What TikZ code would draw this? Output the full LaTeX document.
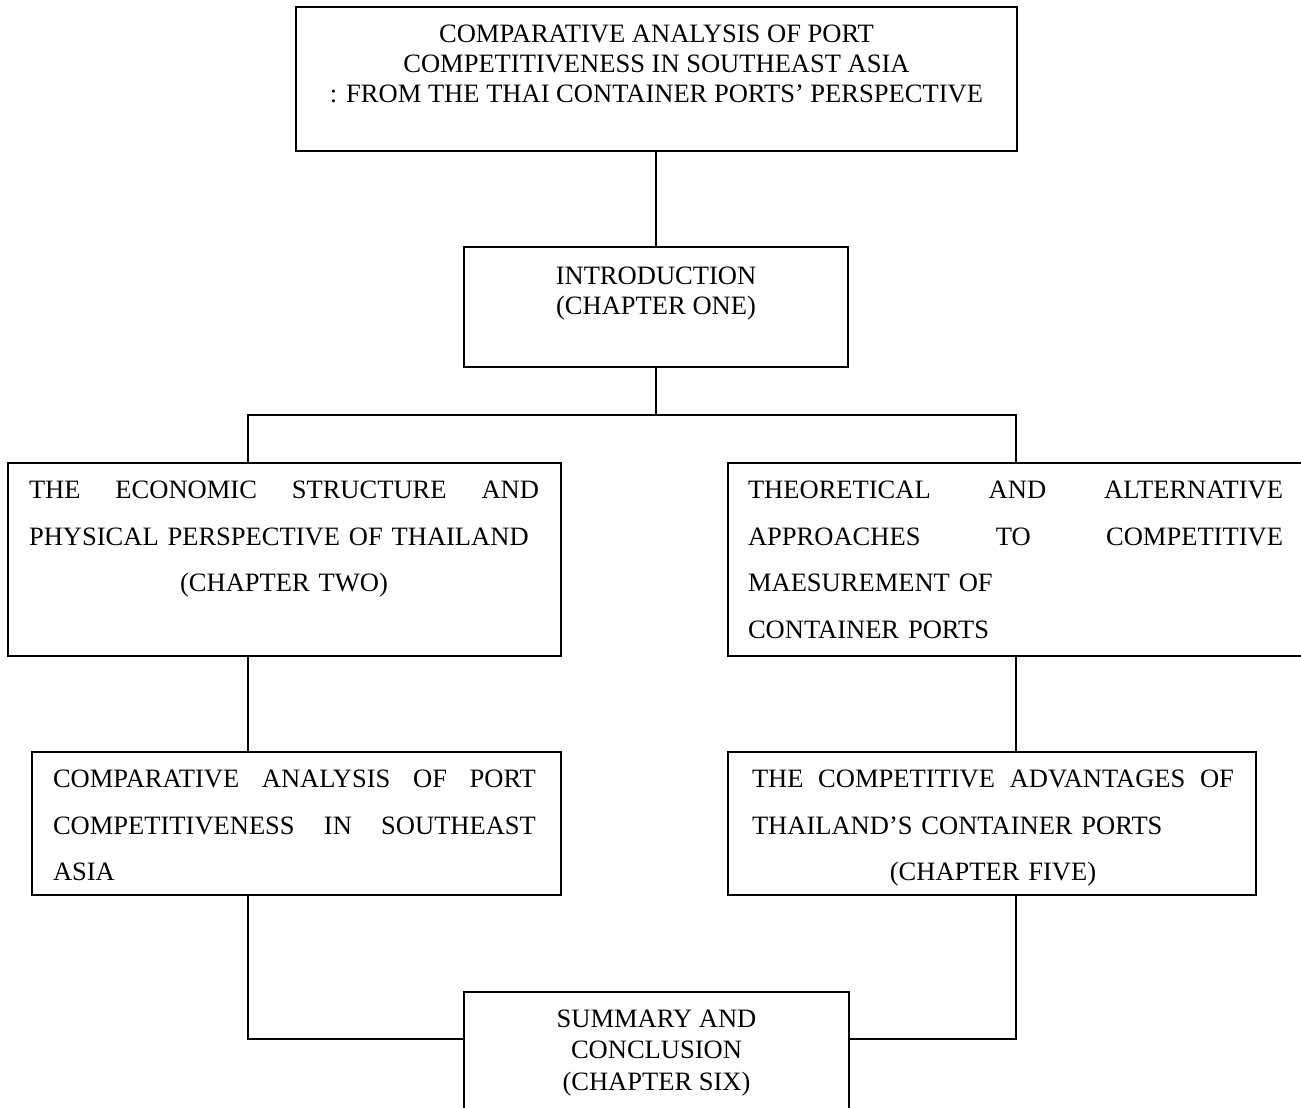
\documentclass[tikz,border=0pt]{standalone}
\usepackage{fontspec}
\setmainfont{Liberation Serif}
\newcommand\pxl[1]{#1*0.75pt}
\newcommand\jl[1]{\leavevmode\hbox to \linewidth{#1}}
\begin{document}
\begin{tikzpicture}[x=0.75pt,y=-0.75pt,
  frame/.style={draw, line width=1.4pt, inner sep=0pt, outer sep=0pt, anchor=north west},
  txt/.style={inner sep=0pt, outer sep=0pt, font=\fontsize{19.9pt}{22.5pt}\selectfont},
  jtxt/.style={inner sep=0pt, outer sep=0pt, anchor=north west, align=left, font=\fontsize{19.9pt}{35pt}\selectfont},
  conn/.style={line width=1.3pt}]
\useasboundingbox (0,0) rectangle (1301,1107);
% boxes
\node[frame, minimum width=\pxl{721}, minimum height=\pxl{144}] (top) at (296,7) {};
\node[frame, minimum width=\pxl{384}, minimum height=\pxl{120}] (intro) at (464,247) {};
\node[frame, minimum width=\pxl{553}, minimum height=\pxl{193}] (econ) at (8,463) {};
\node[frame, minimum width=\pxl{590}, minimum height=\pxl{193}] (theo) at (728,463) {};
\node[frame, minimum width=\pxl{529}, minimum height=\pxl{143}] (comp) at (32,752) {};
\node[frame, minimum width=\pxl{528}, minimum height=\pxl{143}] (adv) at (728,752) {};
\node[frame, minimum width=\pxl{385}, minimum height=\pxl{140}] (summ) at (464,992) {};
% texts
\node[txt, anchor=north, align=center] (top-t) at (656.5,25)
  {COMPARATIVE ANALYSIS OF PORT\\COMPETITIVENESS IN SOUTHEAST ASIA\\: FROM THE THAI CONTAINER PORTS’ PERSPECTIVE};
\node[txt, anchor=north, align=center] (intro-t) at (656,267)
  {INTRODUCTION\\(CHAPTER ONE)};
\node[jtxt, text width=\pxl{510}] (econ-t) at (29,481)
  {\jl{THE\hfill ECONOMIC\hfill STRUCTURE\hfill AND}\\
   PHYSICAL PERSPECTIVE OF THAILAND\\
   \jl{\hfill(CHAPTER TWO)\hfill}};
\node[jtxt, text width=\pxl{535}] (theo-t) at (748,481)
  {\jl{THEORETICAL\hfill AND\hfill ALTERNATIVE}\\
   \jl{APPROACHES\hfill TO\hfill COMPETITIVE}\\
   MAESUREMENT OF\\
   CONTAINER PORTS};
\node[jtxt, text width=\pxl{483}] (comp-t) at (53,770)
  {\jl{COMPARATIVE\hfill ANALYSIS\hfill OF\hfill PORT}\\
   \jl{COMPETITIVENESS\hfill IN\hfill SOUTHEAST}\\
   ASIA};
\node[jtxt, text width=\pxl{482}] (adv-t) at (752,770)
  {\jl{THE\hfill COMPETITIVE\hfill ADVANTAGES\hfill OF}\\
   THAILAND’S CONTAINER PORTS\\
   \jl{\hfill(CHAPTER FIVE)\hfill}};
\node[txt, anchor=north, align=center, font=\fontsize{19.9pt}{23.5pt}\selectfont] (summ-t) at (656.5,1010)
  {SUMMARY AND\\CONCLUSION\\(CHAPTER SIX)};
% connectors
\coordinate (jL) at (248,415);
\coordinate (jR) at (1016,415);
\coordinate (bL) at (248,1039);
\coordinate (bR) at (1016,1039);
\draw[conn] (top.south -| intro.north) -- (intro.north);
\draw[conn] (intro.south) -- (intro.south |- jL);
\draw[conn] (econ.north -| jL) -- (jL) -- (jR) -- (theo.north -| jR);
\draw[conn] (econ.south -| jL) -- (comp.north -| jL);
\draw[conn] (theo.south -| jR) -- (adv.north -| jR);
\draw[conn] (comp.south -| bL) -- (bL) -- (summ.west |- bL);
\draw[conn] (adv.south -| bR) -- (bR) -- (summ.east |- bR);
\end{tikzpicture}
\end{document}
